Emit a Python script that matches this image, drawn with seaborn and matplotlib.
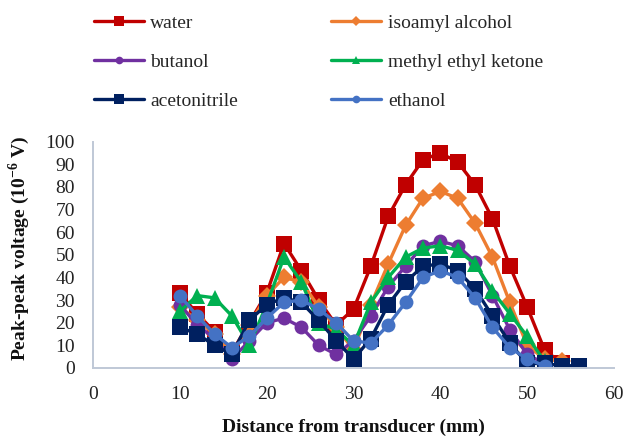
import matplotlib
matplotlib.use('Agg')
import matplotlib.pyplot as plt
import seaborn as sns

# values (peak-peak voltage, 10^-6 V)
water_x = [10, 12, 14, 16, 18, 20, 22, 24, 26, 28, 30, 32, 34, 36, 38, 40, 42, 44, 46, 48, 50, 52, 54]
water_y = [33, 24, 16, 7, 20, 33, 55, 43, 30, 19, 26, 45, 67, 81, 92, 95, 91, 81, 66, 45, 27, 8, 2]

isoamyl_x = [10, 12, 14, 16, 18, 20, 22, 24, 26, 28, 30, 32, 34, 36, 38, 40, 42, 44, 46, 48, 50, 52, 54]
isoamyl_y = [27, 21, 15, 6, 19, 32, 40, 38, 27, 18, 8, 28, 46, 63, 75, 78, 75, 64, 49, 29, 10, 4, 3]

butanol_x = [10, 12, 14, 16, 18, 20, 22, 24, 26, 28, 30, 32, 34, 36, 38, 40, 42, 44, 46, 48, 50, 52]
butanol_y = [28, 19, 13, 4, 12, 20, 22, 18, 10, 6, 12, 23, 36, 45, 54, 56, 54, 47, 32, 17, 6, 2]

mek_x = [10, 12, 14, 16, 18, 20, 22, 24, 26, 28, 30, 32, 34, 36, 38, 40, 42, 44, 46, 48, 50, 52]
mek_y = [25, 32, 31, 23, 10, 28, 49, 38, 20, 17, 10, 29, 40, 49, 53, 54, 52, 46, 34, 24, 14, 3]

acn_x = [10, 12, 14, 16, 18, 20, 22, 24, 26, 28, 30, 32, 34, 36, 38, 40, 42, 44, 46, 48, 50, 52, 54, 56]
acn_y = [18, 15, 10, 6, 21, 28, 31, 29, 21, 12, 4, 13, 28, 38, 45, 46, 43, 35, 23, 11, 2, 2, 1, 1]

ethanol_x = [10, 12, 14, 16, 18, 20, 22, 24, 26, 28, 30, 32, 34, 36, 38, 40, 42, 44, 46, 48, 50, 52]
ethanol_y = [32, 23, 15, 9, 14, 22, 29, 30, 26, 20, 12, 11, 19, 29, 40, 43, 40, 31, 18, 9, 4, 1]

series = [
    ('water', water_x, water_y, '#C00000', 's', 12),
    ('isoamyl alcohol', isoamyl_x, isoamyl_y, '#ED7D31', 'D', 9),
    ('butanol', butanol_x, butanol_y, '#7030A0', 'o', 10),
    ('methyl ethyl ketone', mek_x, mek_y, '#00B050', '^', 11),
    ('acetonitrile', acn_x, acn_y, '#002060', 's', 12),
    ('ethanol', ethanol_x, ethanol_y, '#4472C4', 'o', 10),
]

sns.set_theme(style='white')
plt.rcParams['font.family'] = ['Liberation Serif', 'DejaVu Serif']
plt.rcParams['mathtext.fontset'] = 'custom'
plt.rcParams['mathtext.rm'] = 'Liberation Serif'
plt.rcParams['mathtext.bf'] = 'Liberation Serif:bold'

fig = plt.figure(figsize=(6.26, 4.38), dpi=100)
ax = fig.add_axes([93/626, 1-368/438, (614-93)/626, (368-141.7)/438])

for name, xs, ys, col, mk, ms in series:
    sns.lineplot(x=xs, y=ys, ax=ax, color=col, marker=mk, markersize=ms,
                 markeredgewidth=0, linewidth=2.4, label=name, legend=False)

ax.set_xlim(0, 60)
ax.set_ylim(0, 100)
ax.set_xticks([0, 10, 20, 30, 40, 50, 60])
ax.set_yticks(range(0, 101, 10))
ax.tick_params(axis='both', length=0, labelsize=14, colors='#222222')
ax.tick_params(axis='y', pad=13)
ax.tick_params(axis='x', pad=13)

for s in ['top', 'right']:
    ax.spines[s].set_visible(False)
for s in ['left', 'bottom']:
    ax.spines[s].set_color('#BFC8D6')
    ax.spines[s].set_linewidth(1.4)

ax.set_xlabel('Distance from transducer (mm)', fontsize=14, fontweight='bold', color='#111111')
ax.set_ylabel(r'Peak-peak voltage (10$^{\mathbf{-6}}$ V)', fontsize=14, fontweight='bold', color='#111111')
ax.xaxis.set_label_coords(0.5, -0.225)
ax.yaxis.set_label_coords(-0.118, 0.53)

# legend is filled row by row in the reference
handles, labels = ax.get_legend_handles_labels()
order = [0, 2, 4, 1, 3, 5]
fig.legend([handles[i] for i in order], [labels[i] for i in order], ncol=2,
           frameon=False, fontsize=14,
           loc='upper left', bbox_to_anchor=(94/626, 1-14/438),
           borderpad=0, borderaxespad=0, handlelength=2.55, handletextpad=0.35,
           columnspacing=4.8, labelspacing=1.1, markerscale=0.55)

plt.savefig('out.png', dpi=100)
plt.close()
